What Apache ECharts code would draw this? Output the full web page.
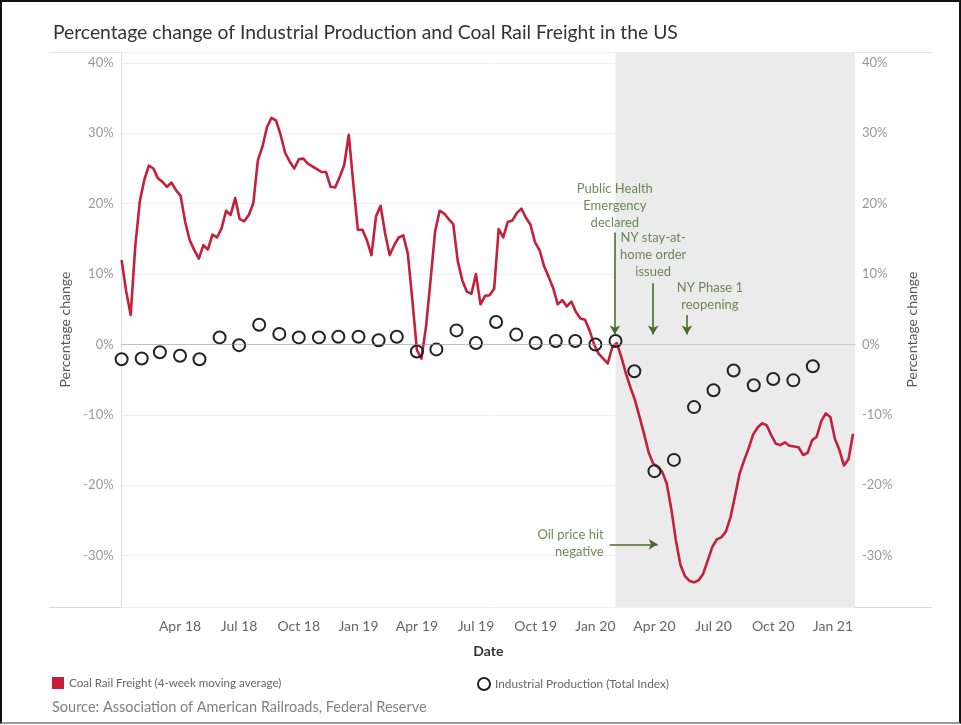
<!DOCTYPE html>
<html><head><meta charset="utf-8">
<script src="https://cdn.jsdelivr.net/npm/echarts@6/dist/echarts.min.js"></script>
<style>
html,body{margin:0;padding:0;background:#fff;}
#c{width:961px;height:725px;position:absolute;left:0;top:0;}
#frame{position:absolute;left:0;top:0;width:957px;height:720px;border:2px solid #111;border-bottom-color:#9a9a9a;pointer-events:none;}
</style>
</head><body><div id="c"></div><div id="frame"></div>
<script>
const FONT = 'Lato, "Open Sans", "DejaVu Sans", sans-serif';

// Weekly coal rail freight (4-week moving average), % change
const coalDates = [
'2018-01-01','2018-01-08','2018-01-15','2018-01-22','2018-01-29','2018-02-05','2018-02-12','2018-02-19','2018-02-26',
'2018-03-05','2018-03-12','2018-03-19','2018-03-26','2018-04-02','2018-04-09','2018-04-16','2018-04-23','2018-04-30',
'2018-05-07','2018-05-14','2018-05-21','2018-05-28','2018-06-04','2018-06-11','2018-06-18','2018-06-25',
'2018-07-02','2018-07-09','2018-07-16','2018-07-23','2018-07-30','2018-08-06','2018-08-13','2018-08-20','2018-08-27',
'2018-09-03','2018-09-10','2018-09-17','2018-09-24','2018-10-01','2018-10-08','2018-10-15','2018-10-22','2018-10-29',
'2018-11-05','2018-11-12','2018-11-19','2018-11-26','2018-12-03','2018-12-10','2018-12-17','2018-12-24','2018-12-31',
'2019-01-07','2019-01-14','2019-01-21','2019-01-28','2019-02-04','2019-02-11','2019-02-18','2019-02-25',
'2019-03-04','2019-03-11','2019-03-18','2019-03-25','2019-04-01','2019-04-08','2019-04-15','2019-04-22','2019-04-29',
'2019-05-06','2019-05-13','2019-05-20','2019-05-27','2019-06-03','2019-06-10','2019-06-17','2019-06-24',
'2019-07-01','2019-07-08','2019-07-15','2019-07-22','2019-07-29','2019-08-05','2019-08-12','2019-08-19','2019-08-26',
'2019-09-02','2019-09-09','2019-09-16','2019-09-23','2019-09-30','2019-10-07','2019-10-14','2019-10-21','2019-10-28',
'2019-11-04','2019-11-11','2019-11-18','2019-11-25','2019-12-02','2019-12-09','2019-12-16','2019-12-23','2019-12-30',
'2020-01-06','2020-01-13','2020-01-20','2020-01-27','2020-02-03','2020-02-10','2020-02-17','2020-02-24',
'2020-03-02','2020-03-09','2020-03-16','2020-03-23','2020-03-30','2020-04-06','2020-04-13','2020-04-20','2020-04-27',
'2020-05-04','2020-05-11','2020-05-18','2020-05-25','2020-06-01','2020-06-08','2020-06-15','2020-06-22','2020-06-29',
'2020-07-06','2020-07-13','2020-07-20','2020-07-27','2020-08-03','2020-08-10','2020-08-17','2020-08-24','2020-08-31',
'2020-09-07','2020-09-14','2020-09-21','2020-09-28','2020-10-05','2020-10-12','2020-10-19','2020-10-26',
'2020-11-02','2020-11-09','2020-11-16','2020-11-23','2020-11-30','2020-12-07','2020-12-14','2020-12-21','2020-12-28',
'2021-01-04','2021-01-11','2021-01-18','2021-01-25','2021-02-01'
];
const coalValues = [
12.0,7.6,4.2,13.9,20.3,23.4,25.4,25.0,23.6,
23.1,22.4,23.0,21.9,21.1,17.4,14.8,13.4,12.2,
14.1,13.5,15.6,15.2,16.5,19.0,18.4,20.8,
17.8,17.5,18.4,20.1,26.2,28.1,30.9,32.2,31.8,
29.8,27.2,26.0,25.0,26.3,26.4,25.7,25.3,24.9,
24.5,24.5,22.4,22.3,23.8,25.5,29.8,22.9,16.3,
16.3,14.8,12.7,18.2,19.7,15.8,12.7,14.1,
15.2,15.5,12.9,6.3,-0.8,-2.0,2.5,9.1,16.0,
19.0,18.6,17.8,17.1,11.8,9.1,7.5,7.2,
10.0,5.7,6.9,7.0,7.9,16.4,15.2,17.4,17.6,
18.7,19.3,18.0,17.0,14.5,13.4,11.1,9.6,8.0,
5.7,6.3,5.4,6.1,4.6,3.7,3.5,2.0,0.0,
-1.3,-2.0,-2.7,-0.4,0.2,-1.8,-4.1,-6.1,
-7.9,-10.3,-12.7,-15.3,-16.9,-17.4,-18.1,-19.8,-23.4,
-27.8,-31.3,-32.9,-33.6,-33.8,-33.5,-32.6,-30.7,-28.8,
-27.7,-27.4,-26.6,-24.6,-21.6,-18.4,-16.5,-14.8,-12.8,
-11.8,-11.2,-11.5,-12.9,-14.1,-14.3,-13.9,-14.4,
-14.5,-14.6,-15.7,-15.4,-13.6,-13.1,-10.9,-9.8,-10.3,
-13.4,-15.0,-17.2,-16.3,-12.7
];

// Monthly industrial production (total index), % change
const ipMonths = [
'2018-01-01','2018-02-01','2018-03-01','2018-04-01','2018-05-01','2018-06-01','2018-07-01','2018-08-01','2018-09-01','2018-10-01','2018-11-01','2018-12-01',
'2019-01-01','2019-02-01','2019-03-01','2019-04-01','2019-05-01','2019-06-01','2019-07-01','2019-08-01','2019-09-01','2019-10-01','2019-11-01','2019-12-01',
'2020-01-01','2020-02-01','2020-03-01','2020-04-01','2020-05-01','2020-06-01','2020-07-01','2020-08-01','2020-09-01','2020-10-01','2020-11-01','2020-12-01'
];
const ipValues = [
-2.1,-2.0,-1.1,-1.6,-2.1,1.0,-0.1,2.8,1.5,1.0,1.0,1.1,
1.1,0.6,1.1,-1.0,-0.7,2.0,0.2,3.2,1.4,0.2,0.5,0.5,
0.0,0.5,-3.8,-18.0,-16.4,-8.9,-6.5,-3.7,-5.8,-4.9,-5.1,-3.1
];

const xTickDates = ['2018-04-01','2018-07-01','2018-10-01','2019-01-01','2019-04-01','2019-07-01','2019-10-01',
  '2020-01-01','2020-04-01','2020-07-01','2020-10-01','2021-01-01'];
const xRange = ['2018-01-01','2021-02-04'];
const yRange = [-37.3, 41.55];
const shadeRange = ['2020-02-01','2021-02-04'];

// Annotations
const annText = ['Public Health\nEmergency\ndeclared','NY stay-at-\nhome order\nissued','NY Phase 1\nreopening','Oil price hit\nnegative'];
const annFromDate = ['2020-01-31','2020-03-30','2020-05-21','2020-01-23'];
const annFromVal = [15.9, 8.7, 4.2, -28.4];
const annToDate = ['2020-01-31','2020-03-30','2020-05-21','2020-04-06'];
const annToVal = [1.4, 1.4, 1.4, -28.4];

const monthNames = ['Jan','Feb','Mar','Apr','May','Jun','Jul','Aug','Sep','Oct','Nov','Dec'];
const toTs = s => { const p = s.split('-').map(Number); return new Date(p[0], p[1]-1, p[2]).getTime(); };

const RED = '#c5203a';
const GREEN = '#4b6b2c';

const chart = echarts.init(document.getElementById('c'), null, {renderer:'canvas'});

const annLabelCfg = [
  {position:'top', distance:1, align:'center', offset:[0,0]},
  {position:'top', distance:3, align:'center', offset:[0,0]},
  {position:'top', distance:2, align:'center', offset:[23,0]},
  {position:'left', distance:6, align:'right', offset:[0,-1]}
];

const option = {
  animation:false,
  textStyle:{fontFamily:FONT},
  title:[
    {text:'Percentage change of Industrial Production and Coal Rail Freight in the US', left:53, top:23, padding:0,
     textStyle:{fontSize:19.3, fontWeight:'normal', color:'#333', fontFamily:FONT}},
    {text:'Source: Association of American Railroads, Federal Reserve', left:52, top:700, padding:0,
     textStyle:{fontSize:14.5, fontWeight:'normal', color:'#808080', fontFamily:FONT}}
  ],
  legend:[
    {left:52, top:677, padding:0, itemWidth:12, itemHeight:12, itemGap:10, selectedMode:false,
     textStyle:{fontSize:11.6, color:'#666', fontFamily:FONT},
     data:[{name:'Coal Rail Freight (4-week moving average)', icon:'rect', itemStyle:{color:RED, borderWidth:0}}]},
    {left:477, top:677, padding:0, itemWidth:12, itemHeight:12, selectedMode:false,
     textStyle:{fontSize:11.8, color:'#666', fontFamily:FONT},
     data:[{name:'Industrial Production (Total Index)', icon:'circle', itemStyle:{color:'#fff', borderColor:'#222', borderWidth:2}}]}
  ],
  grid:{left:121.6, right:106, top:52, bottom:118, containLabel:false},
  xAxis:{
    type:'value', min:toTs(xRange[0]), max:toTs(xRange[1]),
    name:'Date', nameLocation:'middle', nameGap:37,
    nameTextStyle:{fontSize:14, fontWeight:'bold', color:'#333', fontFamily:FONT},
    axisLine:{show:true, lineStyle:{color:'#d6d6d6'}},
    axisTick:{show:false}, splitLine:{show:false},
    axisLabel:{customValues:xTickDates.map(toTs), color:'#666', fontSize:14, margin:12, fontFamily:FONT,
      hideOverlap:false,
      formatter:v => { const d = new Date(v); return monthNames[d.getMonth()] + ' ' + String(d.getFullYear()).slice(2); }}
  },
  yAxis:[
    {type:'value', min:yRange[0], max:yRange[1], splitNumber:8, position:'left',
     name:'Percentage change', nameLocation:'middle', nameGap:44, nameRotate:90,
     nameTextStyle:{fontSize:14, color:'#5a5a5a', fontFamily:FONT},
     axisLine:{show:true, lineStyle:{color:'#dedede'}}, axisTick:{show:false},
     splitLine:{show:true, lineStyle:{color:'#f0f0f0', width:1}},
     axisLabel:{formatter:v => v + '%', color:'#999', fontSize:13, margin:8, showMinLabel:false, showMaxLabel:false, fontFamily:FONT}},
    {type:'value', min:yRange[0], max:yRange[1], splitNumber:8, position:'right',
     name:'Percentage change', nameLocation:'middle', nameGap:50, nameRotate:90,
     nameTextStyle:{fontSize:14, color:'#5a5a5a', fontFamily:FONT},
     axisLine:{show:false}, axisTick:{show:false}, splitLine:{show:false},
     axisLabel:{formatter:v => v + '%', color:'#999', fontSize:13, margin:7, showMinLabel:false, showMaxLabel:false, fontFamily:FONT}}
  ],
  graphic:[
    {type:'line', shape:{x1:49, y1:52.5, x2:932, y2:52.5}, style:{stroke:'#e4e4e4', lineWidth:1}, z:-1, silent:true},
    {type:'line', shape:{x1:49, y1:607.5, x2:932, y2:607.5}, style:{stroke:'#d6d6d6', lineWidth:1}, z:-1, silent:true}
  ],
  series:[
    {
      name:'shade', type:'line', data:[], z:-1, silent:true,
      markArea:{silent:true, itemStyle:{color:'#ebebeb'},
        data:[[{xAxis:toTs(shadeRange[0]), yAxis:yRange[0]}, {xAxis:toTs(shadeRange[1]), yAxis:yRange[1]}]]}
    },
    {
      name:'Coal Rail Freight (4-week moving average)', type:'line', z:3,
      data:coalDates.map((d,i) => [toTs(d), coalValues[i]]),
      symbol:'none', showSymbol:false,
      lineStyle:{color:RED, width:2.6, join:'round'}, itemStyle:{color:RED},
      markLine:{silent:true, symbol:['none','none'], label:{show:false},
        lineStyle:{color:'#aaa', type:'dotted', width:1},
        data:[{yAxis:0}]}
    },
    {
      name:'Industrial Production (Total Index)', type:'scatter', z:4,
      data:ipMonths.map((d,i) => [toTs(d), ipValues[i]]),
      symbol:'circle', symbolSize:12,
      itemStyle:{color:'rgba(0,0,0,0)', borderColor:'#222', borderWidth:2, opacity:1}
    },
    {
      name:'annotations', type:'scatter', z:5, silent:true, symbolSize:0,
      data:annText.map((t,i) => ({
        value:[toTs(annFromDate[i]), annFromVal[i]],
        label:Object.assign({show:true, formatter:t, color:GREEN, fontSize:13, lineHeight:17, fontFamily:FONT}, annLabelCfg[i])
      })),
      markLine:{silent:true, symbol:['none','arrow'], symbolSize:[8,9], label:{show:false},
        lineStyle:{color:GREEN, width:1.6, type:'solid'},
        data:annText.map((t,i) => [{coord:[toTs(annFromDate[i]), annFromVal[i]]}, {coord:[toTs(annToDate[i]), annToVal[i]]}])}
    }
  ]
};
chart.setOption(option);
</script></body></html>
